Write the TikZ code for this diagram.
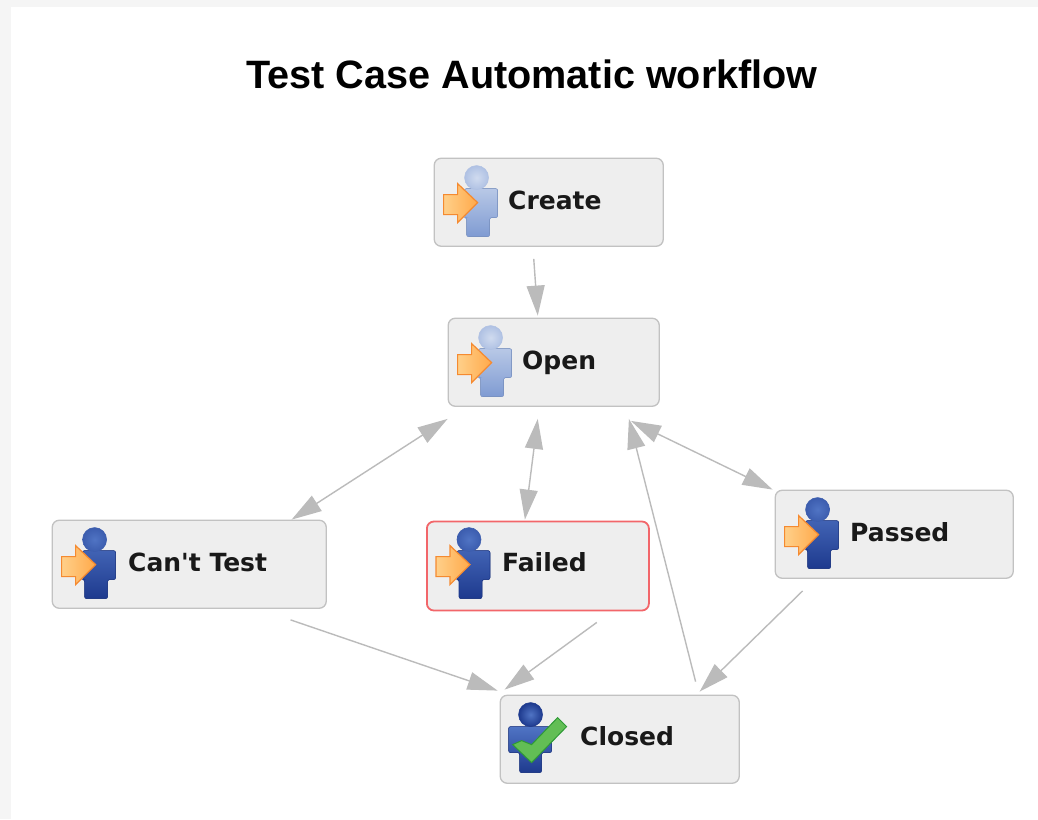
\documentclass[tikz,border=0pt]{standalone}
\usepackage{fontspec}
\setmainfont{Liberation Sans}
\newfontfamily\lblfont{DejaVu Sans}
\usetikzlibrary{arrows.meta}
\definecolor{boxfill}{HTML}{EEEEEE}
\definecolor{boxline}{HTML}{C2C2C2}
\definecolor{arrowgrey}{HTML}{BBBBBB}
\definecolor{redline}{HTML}{F2666A}
\definecolor{darkA}{HTML}{5074C4}
\definecolor{darkB}{HTML}{1E3A8E}
\definecolor{paleA}{HTML}{D0DBEF}
\definecolor{paleB}{HTML}{7F9BD2}
\definecolor{orangeA}{HTML}{FFD08A}
\definecolor{orangeB}{HTML}{FFA94A}
\definecolor{orangeL}{HTML}{F58A30}
\definecolor{greenF}{HTML}{62BE55}
\definecolor{greenL}{HTML}{2E9A35}
\tikzset{
  x=1pt,y=-1pt,
  stbox/.style={draw=boxline,line width=1.3pt,fill=boxfill,rounded corners=7pt,anchor=north west,inner sep=0pt},
  failbox/.style={stbox,draw=redline,line width=1.8pt},
  stlabel/.style={anchor=base west,inner sep=0pt,font=\lblfont\bfseries\fontsize{25}{28}\selectfont,text=black!90},
  conn/.style={draw=arrowgrey,line width=1.4pt},
  tipa/.style={conn,-{Triangle[length=30pt,width=18pt,color=arrowgrey]}},
  tipb/.style={conn,{Triangle[length=30pt,width=18pt,color=arrowgrey]}-{Triangle[length=30pt,width=18pt,color=arrowgrey]}},
  pics/person/.style n args={2}{code={
    \fill[top color=#1!70!#2,bottom color=#2,draw=#2,line width=.6pt,rounded corners=2pt]
      (31,31) -- (64,31) -- (64,60) -- (56,60) -- (56,79) -- (33,79) -- (33,60) -- (31,60) -- cycle;
    \shade[inner color=#1,outer color=#1!60!#2,draw=#1!60!#2,line width=.6pt] (43,20) circle[radius=12];
    \draw[orangeL,line width=1.2pt,left color=orangeA,right color=orangeB]
      (10,37) -- (24,37) -- (24,26) -- (44,45) -- (24,65) -- (24,57) -- (10,57) -- cycle;
  }},
  pics/doneperson/.style={code={
    \fill[top color=darkA,bottom color=darkB,draw=darkB,line width=.6pt,rounded corners=2pt]
      (9,32) -- (52,32) -- (52,58) -- (42,58) -- (42,78) -- (20,78) -- (20,58) -- (9,58) -- cycle;
    \shade[inner color=darkA,outer color=darkB,draw=darkB,line width=.6pt] (31,20) circle[radius=12];
    \fill[greenF,draw=greenL,line width=1pt]
      (13,50) -- (32,68) -- (67,32) -- (58,23) -- (32,50) -- (22,46) -- cycle;
  }}
}
\begin{document}
\begin{tikzpicture}
\useasboundingbox (0,0) rectangle (1038,819);
\fill[black!4] (0,0) rectangle (1038,819);
\fill[white] (11,7) rectangle (1038,819);

\node[anchor=center,inner sep=0pt,font=\bfseries\fontsize{39.6}{42}\selectfont] (title) at (532,74) {Test Case Automatic workflow};

\node[stbox,minimum width=229pt,minimum height=88pt] (create) at (433.6,157.6) {};
\node[stbox,minimum width=211pt,minimum height=88pt] (open) at (447.6,317.6) {};
\node[stbox,minimum width=274pt,minimum height=88pt] (cant) at (51.6,519.6) {};
\node[failbox,minimum width=222pt,minimum height=89pt] (failed) at (426,520.6) {};
\node[stbox,minimum width=238pt,minimum height=88pt] (passed) at (774.6,489.6) {};
\node[stbox,minimum width=239pt,minimum height=88pt] (closed) at (499.6,694.6) {};

\pic at (create.north west) {person={paleA}{paleB}};
\pic at (open.north west) {person={paleA}{paleB}};
\pic at (cant.north west) {person={darkA}{darkB}};
\pic at ([shift={(0,-1)}]failed.north west) {person={darkA}{darkB}};
\pic at (passed.north west) {person={darkA}{darkB}};
\pic at (closed.north west) {doneperson};

\node[stlabel] (createlabel) at (508,209) {Create};
\node[stlabel] (openlabel) at (522,369) {Open};
\node[stlabel] (cantlabel) at (128,571) {Can't Test};
\node[stlabel] (failedlabel) at (502,571) {Failed};
\node[stlabel] (passedlabel) at (850,541) {Passed};
\node[stlabel] (closedlabel) at (580,745) {Closed};

\draw[tipa] ([shift={(-15,12)}]create.south) -- ([shift={(-16,-2)}]open.north);
\draw[tipb] ([shift={(0,12)}]open.south west) -- ([shift={(240,0)}]cant.north west);
\draw[tipb] ([shift={(-16,12)}]open.south) -- ([shift={(-13,-1)}]failed.north);
\draw[tipb] ([shift={(-29,14)}]open.south east) -- ([shift={(-2,0)}]passed.north west);
\draw[tipa] ([shift={(196,-13)}]closed.north west) -- ([shift={(-31,12)}]open.south east);
\draw[tipa] ([shift={(28,12)}]passed.south west) -- ([shift={(200,-3)}]closed.north west);
\draw[tipa] ([shift={(-53,11)}]failed.south east) -- ([shift={(5,-5)}]closed.north west);
\draw[tipa] ([shift={(239,11)}]cant.south west) -- ([shift={(-2,-4)}]closed.north west);
\end{tikzpicture}
\end{document}
